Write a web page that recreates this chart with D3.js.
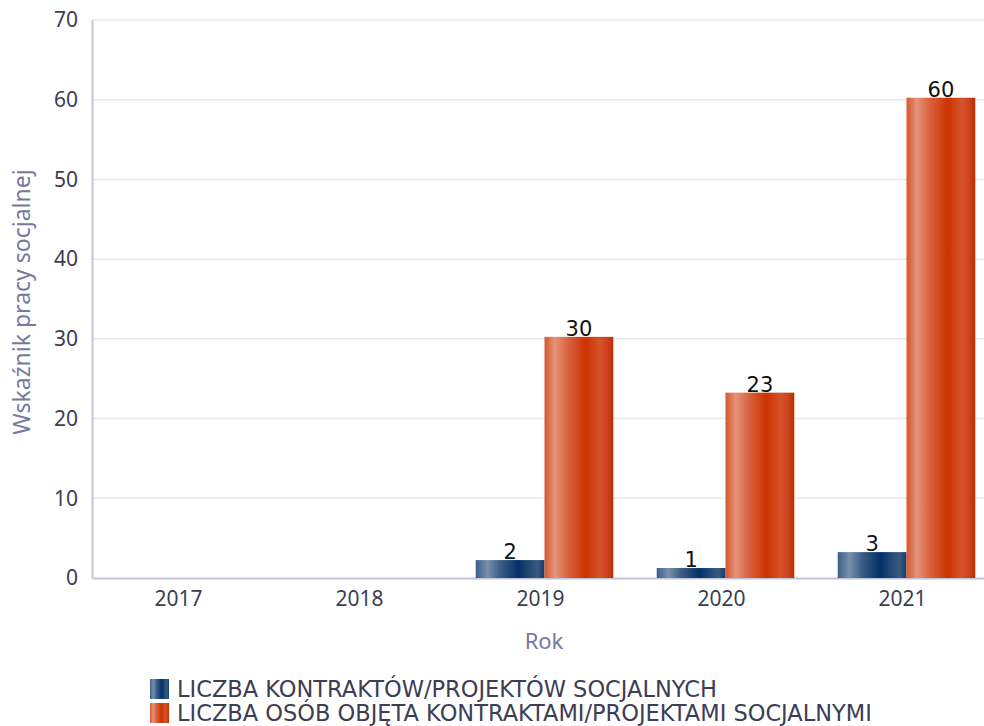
<!DOCTYPE html>
<meta charset="utf-8">
<script src="https://d3js.org/d3.v7.min.js"></script>
<style>
  body { margin: 0; background: #fff; }
</style>
<div id="chart"></div>
<script>

// data
var years = ["2017", "2018", "2019", "2020", "2021"];
var kontrakty = [0, 0, 2, 1, 3];
var osoby = [0, 0, 30, 23, 60];
var seriesNames = ["LICZBA KONTRAKTÓW/PROJEKTÓW SOCJALNYCH",
                   "LICZBA OSÓB OBJĘTA KONTRAKTAMI/PROJEKTAMI SOCJALNYMI"];
var yTicks = [0, 10, 20, 30, 40, 50, 60, 70];

var W = 984, H = 726;
var margin = {top: 20, right: -13, bottom: 148, left: 92},
    width = W - margin.left - margin.right,
    height = H - margin.top - margin.bottom;

var svg = d3.select("#chart")
  .append("svg")
    .attr("width", W)
    .attr("height", H);

// gradients for the shiny bars
var defs = svg.append("defs");
function gradient(id, stops) {
  var g = defs.append("linearGradient").attr("id", id)
    .attr("x1", "0%").attr("x2", "100%").attr("y1", "0%").attr("y2", "0%");
  stops.forEach(function(s) {
    g.append("stop").attr("offset", s[0]).attr("stop-color", s[1]);
  });
}
gradient("gBlue", [[0, "#3a5f8a"], [0.17, "#7890ab"], [0.35, "#3d5f87"], [0.62, "#033066"], [0.82, "#2c507a"], [0.9, "#395a80"], [1, "#133b6b"]]);
gradient("gOrange", [[0, "#d6552e"], [0.15, "#e3947a"], [0.35, "#d9603c"], [0.6, "#cc3300"], [0.8, "#d5532c"], [0.9, "#ce4520"], [1, "#b83000"]]);

var g = svg.append("g")
  .attr("transform", "translate(" + margin.left + "," + margin.top + ")");

var x = d3.scaleBand()
  .domain(years)
  .range([0, width])
  .paddingInner(0.24)
  .paddingOuter(0.12);

var x1 = d3.scaleBand()
  .domain([0, 1])
  .range([0, x.bandwidth()]);

var y = d3.scaleLinear()
  .domain([0, 70])
  .range([height, 0]);

// grid
g.selectAll(".grid")
  .data(yTicks.slice(1))
  .enter().append("line")
    .attr("x1", 0).attr("x2", width)
    .attr("y1", function(d) { return y(d); })
    .attr("y2", function(d) { return y(d); })
    .attr("stroke", "#e8e8f0")
    .attr("stroke-width", 1.5);

// y axis
var yAxis = g.append("g")
  .call(d3.axisLeft(y).tickValues(yTicks).tickSize(0).tickPadding(14));
yAxis.select(".domain").attr("stroke", "#c4c4d8").attr("stroke-width", 2);
yAxis.selectAll("text")
  .attr("fill", "#3d3d55")
  .style("font-family", "'Noto Sans', sans-serif")
  .style("font-size", "21px");

// x axis
var xAxis = g.append("g")
  .attr("transform", "translate(0," + height + ")")
  .call(d3.axisBottom(x).tickSize(0).tickPadding(13));
xAxis.select(".domain").attr("stroke", "#c4c4d8").attr("stroke-width", 2);
xAxis.selectAll("text")
  .attr("fill", "#3d3d55")
  .attr("dx", -4)
  .style("font-family", "'Noto Sans', sans-serif")
  .style("font-size", "21px");

// bars
var rows = years.map(function(yr, i) { return {year: yr, vals: [kontrakty[i], osoby[i]]}; });
var fills = ["url(#gBlue)", "url(#gOrange)"];

var groups = g.selectAll(".grp")
  .data(rows)
  .enter().append("g")
    .attr("transform", function(d) { return "translate(" + x(d.year) + ",0)"; });

groups.selectAll("rect")
  .data(function(d) { return d.vals.map(function(v, k) { return {k: k, v: v}; }); })
  .enter().append("rect")
    .filter(function(d) { return d.v > 0; })
    .attr("x", function(d) { return x1(d.k); })
    .attr("y", function(d) { return y(d.v) - 2; })
    .attr("width", x1.bandwidth())
    .attr("height", function(d) { return height - y(d.v) + 2; })
    .attr("fill", function(d) { return fills[d.k]; });

groups.selectAll("text")
  .data(function(d) { return d.vals.map(function(v, k) { return {k: k, v: v}; }); })
  .enter().append("text")
    .filter(function(d) { return d.v > 0; })
    .attr("x", function(d) { return x1(d.k) + x1.bandwidth() / 2; })
    .attr("y", function(d) { return y(d.v) - 3; })
    .attr("text-anchor", "middle")
    .style("font-family", "'DejaVu Sans', sans-serif")
    .style("font-size", "21px")
    .attr("fill", "#111")
    .text(function(d) { return d.v; });

// axis titles
svg.append("text")
  .attr("transform", "translate(30," + (margin.top + 282) + ") rotate(-90)")
  .attr("text-anchor", "middle")
  .attr("fill", "#7878a0")
  .style("font-family", "'Noto Sans', sans-serif")
  .style("font-size", "23px")
  .text("Wskaźnik pracy socjalnej");

svg.append("text")
  .attr("x", 544)
  .attr("y", 649)
  .attr("text-anchor", "middle")
  .attr("fill", "#7878a0")
  .style("font-family", "'Noto Sans', sans-serif")
  .style("font-size", "22px")
  .text("Rok");

// legend
var legend = svg.selectAll(".leg")
  .data(seriesNames)
  .enter().append("g")
    .attr("transform", function(d, i) { return "translate(150," + (679 + i * 24) + ")"; });
legend.append("rect")
  .attr("width", 19).attr("height", 20)
  .attr("fill", function(d, i) { return fills[i]; });
legend.append("text")
  .attr("x", 27).attr("y", 18)
  .attr("fill", "#3d3d55")
  .style("font-family", "'DejaVu Sans', sans-serif")
  .style("font-size", "22.5px")
  .text(function(d) { return d; });

</script>
